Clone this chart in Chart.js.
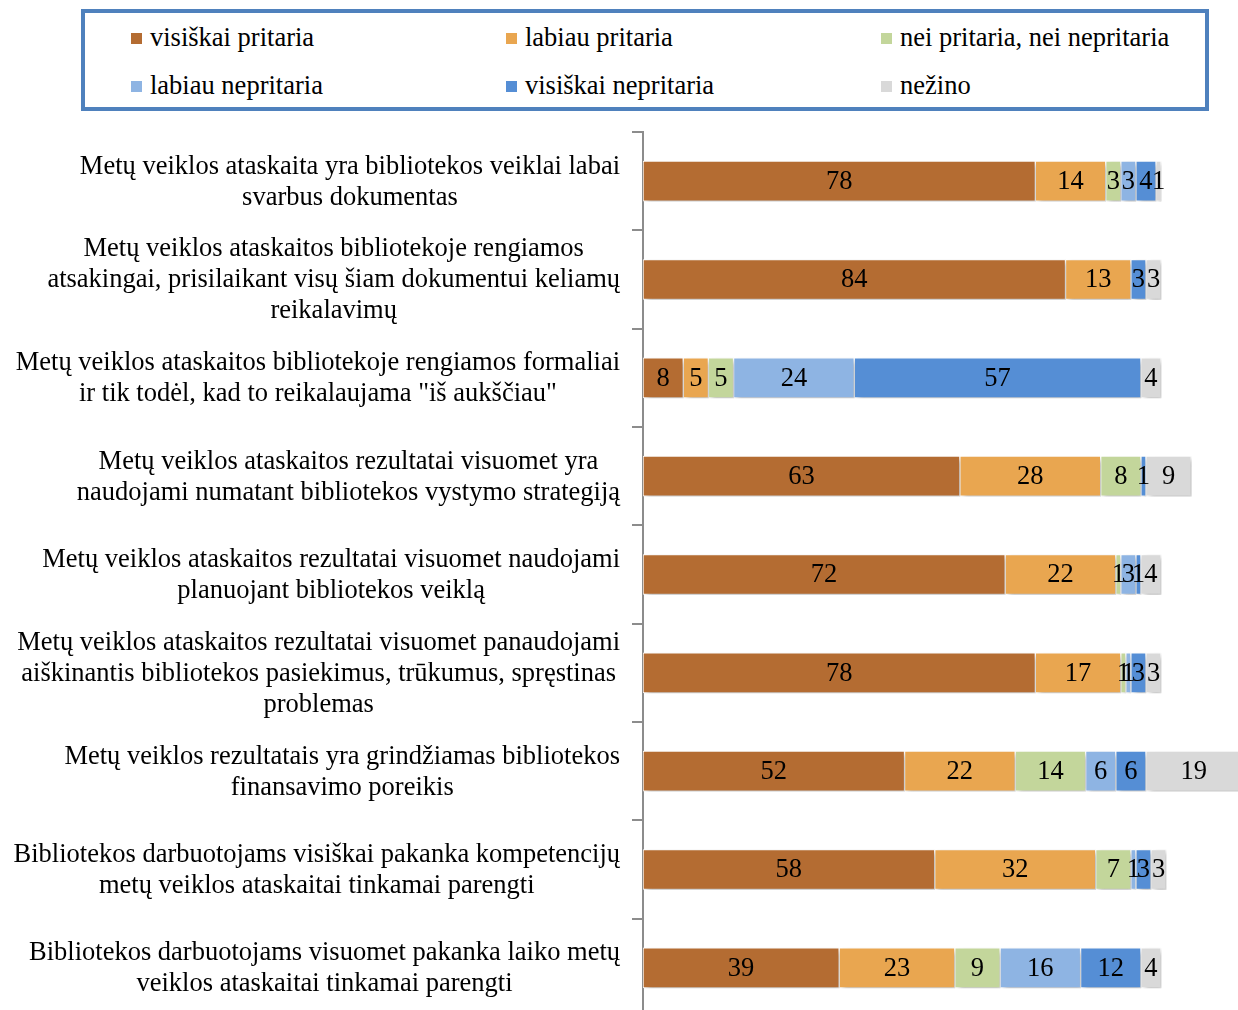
<!DOCTYPE html>
<html>
<head>
<meta charset="utf-8">
<script src="https://cdn.jsdelivr.net/npm/chart.js@4.4.0/dist/chart.umd.min.js"></script>
<style>
  html, body { margin: 0; padding: 0; background: #fff; overflow: hidden; }
  #wrap { position: relative; width: 1238px; height: 1018px; }
  #legend {
    position: absolute; left: 81px; top: 9px; width: 1120px; height: 94px;
    border: 4px solid #4F81BD; background: #fff;
    font-family: "Liberation Serif", "Times New Roman", serif; font-size: 26.5px; color: #000;
  }
  .item { position: absolute; height: 28px; line-height: 28px; white-space: nowrap; }
  .item span.box { display: inline-block; width: 11px; height: 11px; margin-right: 8px; vertical-align: 2px; }
</style>
</head>
<body>
<div id="wrap">
  <canvas id="chart-bars"></canvas>
  <div id="legend"></div>
</div>
<script>
var categories = [
  ["Metų veiklos ataskaita yra bibliotekos veiklai labai", "svarbus dokumentas"],
  ["Metų veiklos ataskaitos bibliotekoje rengiamos", "atsakingai, prisilaikant visų šiam dokumentui keliamų", "reikalavimų"],
  ["Metų veiklos ataskaitos bibliotekoje rengiamos formaliai", "ir tik todėl, kad to reikalaujama \"iš aukščiau\""],
  ["Metų veiklos ataskaitos rezultatai visuomet yra", "naudojami numatant bibliotekos vystymo strategiją"],
  ["Metų veiklos ataskaitos rezultatai visuomet naudojami", "planuojant bibliotekos veiklą"],
  ["Metų veiklos ataskaitos rezultatai visuomet panaudojami", "aiškinantis bibliotekos pasiekimus, trūkumus, spręstinas", "problemas"],
  ["Metų veiklos rezultatais yra grindžiamas bibliotekos", "finansavimo poreikis"],
  ["Bibliotekos darbuotojams visiškai pakanka kompetencijų", "metų veiklos ataskaitai tinkamai parengti"],
  ["Bibliotekos darbuotojams visuomet pakanka laiko metų", "veiklos ataskaitai tinkamai parengti"]
];

var visiskaiPritaria   = [78, 84, 8, 63, 72, 78, 52, 58, 39];
var labiauPritaria     = [14, 13, 5, 28, 22, 17, 22, 32, 23];
var neiPritariaNei     = [3, 0, 5, 8, 1, 1, 14, 7, 9];
var labiauNepritaria   = [3, 0, 24, 0, 3, 1, 6, 1, 16];
var visiskaiNepritaria = [4, 3, 57, 1, 1, 3, 6, 3, 12];
var nezino             = [1, 3, 4, 9, 4, 3, 19, 3, 4];

var seriesNames = ["visiškai pritaria", "labiau pritaria", "nei pritaria, nei nepritaria",
                   "labiau nepritaria", "visiškai nepritaria", "nežino"];
var seriesColors = ["#B46C32", "#E9A650", "#C3D69B", "#8EB4E3", "#558ED5", "#D9D9D9"];
var seriesData = [visiskaiPritaria, labiauPritaria, neiPritariaNei, labiauNepritaria, visiskaiNepritaria, nezino];

var serif = "'Liberation Serif', 'Times New Roman', serif";

// html legend, 3 columns x 2 rows
var legend = document.getElementById("legend");
seriesNames.forEach(function (name, i) {
  var el = document.createElement("div");
  el.className = "item";
  el.style.left = (46 + (i % 3) * 375) + "px";
  el.style.top = (10 + Math.floor(i / 3) * 48) + "px";
  el.innerHTML = '<span class="box" style="background:' + seriesColors[i] + '"></span>' + name;
  legend.appendChild(el);
});

// value labels in the middle of each segment
var valueLabels = {
  id: "valueLabels",
  afterDatasetsDraw: function (chart) {
    var ctx = chart.ctx;
    ctx.save();
    ctx.font = "26.5px " + serif;
    ctx.fillStyle = "#000";
    ctx.textAlign = "center";
    ctx.textBaseline = "middle";
    chart.data.datasets.forEach(function (ds, di) {
      chart.getDatasetMeta(di).data.forEach(function (bar, i) {
        var v = ds.data[i];
        if (!v) return;
        ctx.fillText(String(v), (bar.x + bar.base) / 2, bar.y + 1);
      });
    });
    ctx.restore();
  }
};

// soft drop shadow under the bars
var barShadow = {
  id: "barShadow",
  beforeDatasetsDraw: function (chart) {
    var ctx = chart.ctx;
    ctx.save();
    ctx.shadowColor = "rgba(0,0,0,0.28)";
    ctx.shadowBlur = 5;
    ctx.shadowOffsetX = 3;
    ctx.shadowOffsetY = 3;
  },
  afterDatasetsDraw: function (chart) {
    chart.ctx.restore();
  }
};

// category labels: each block centered on itself, right edge near the axis
var categoryLabels = {
  id: "categoryLabels",
  afterDraw: function (chart) {
    var ctx = chart.ctx;
    var yScale = chart.scales.y;
    var right = chart.chartArea.left - 23;
    var lineH = 31;
    ctx.save();
    ctx.font = "26.5px " + serif;
    ctx.fillStyle = "#000";
    ctx.textAlign = "center";
    ctx.textBaseline = "middle";
    categories.forEach(function (lines, i) {
      var widest = 0;
      lines.forEach(function (l) { widest = Math.max(widest, ctx.measureText(l).width); });
      var cx = right - widest / 2;
      var cy = yScale.getPixelForValue(i);
      var top = cy - (lines.length - 1) * lineH / 2;
      lines.forEach(function (l, k) { ctx.fillText(l, cx, top + k * lineH + 1); });
    });
    ctx.restore();
  }
};

var ctx = document.getElementById("chart-bars").getContext("2d");

new Chart(ctx, {
  type: "bar",
  data: {
    labels: categories.map(function (c) { return c.join(" "); }),
    datasets: seriesData.map(function (d, i) {
      return {
        label: seriesNames[i],
        data: d,
        backgroundColor: seriesColors[i],
        borderColor: "#ffffff",
        borderWidth: 1,
        borderSkipped: false,
        barThickness: 40
      };
    })
  },
  options: {
    indexAxis: "y",
    responsive: true,
    maintainAspectRatio: false,
    animation: false,
    layout: { padding: { top: 132, bottom: 1, left: 0, right: 0 } },
    plugins: {
      legend: { display: false },
      tooltip: { enabled: false }
    },
    scales: {
      x: {
        stacked: true,
        display: false,
        min: 0,
        max: 118.3
      },
      y: {
        stacked: true,
        afterFit: function (scale) { scale.width = 643; },
        grid: {
          offset: true,
          drawOnChartArea: false,
          drawTicks: true,
          tickLength: 11,
          color: "#8c8c8c",
          lineWidth: 2
        },
        border: { display: true, color: "#8c8c8c", width: 2 },
        ticks: { display: false }
      }
    }
  },
  plugins: [barShadow, valueLabels, categoryLabels]
});
</script>
</body>
</html>
